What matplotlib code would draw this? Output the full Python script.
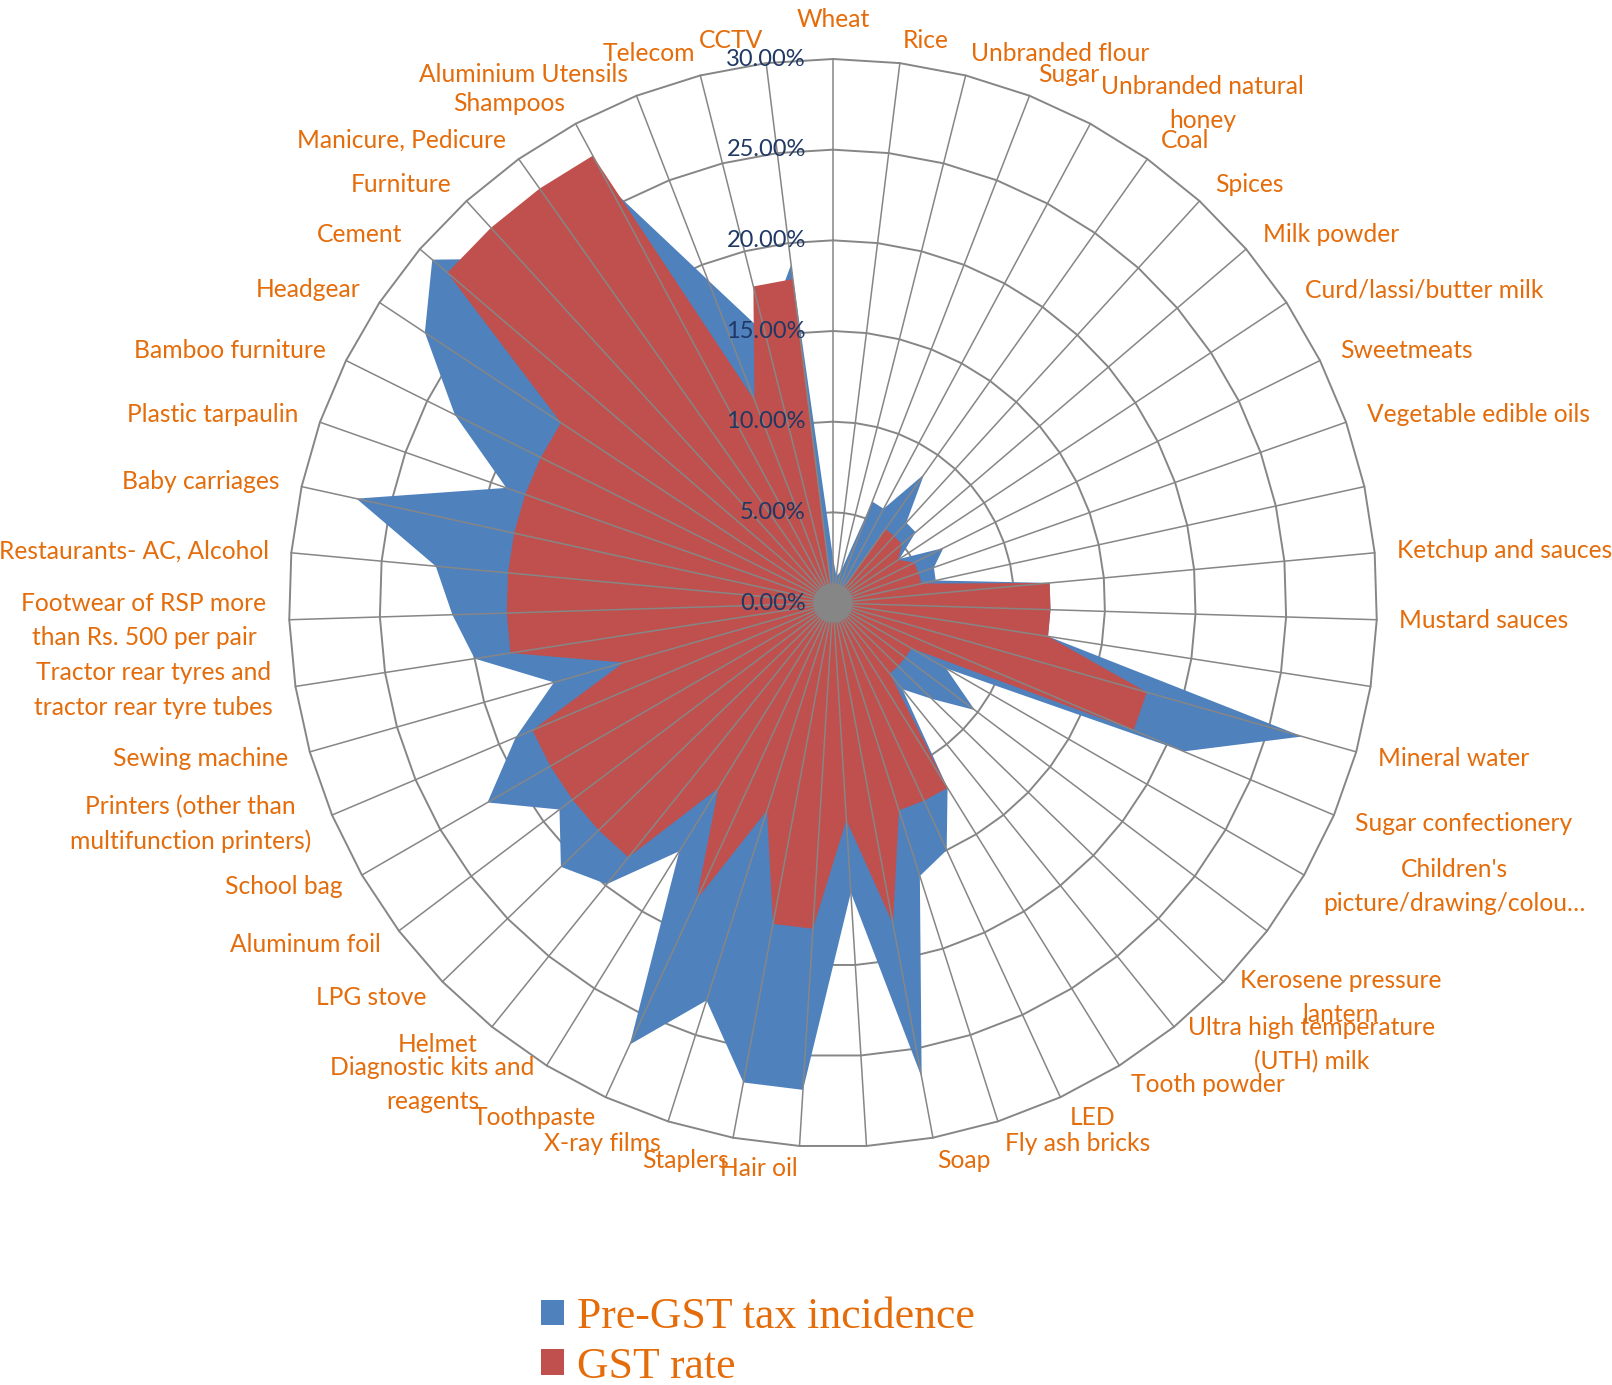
import numpy as np
import matplotlib
matplotlib.use('Agg')
import matplotlib.pyplot as plt
from matplotlib.patches import Patch, Circle

# categories clockwise from the top; '' = spoke without a visible label
categories = [
    'Wheat', 'Rice', 'Unbranded flour', 'Sugar', 'Unbranded natural\nhoney',
    'Coal', 'Spices', 'Milk powder', 'Curd/lassi/butter milk', 'Sweetmeats',
    'Vegetable edible oils', '', 'Ketchup and sauces', 'Mustard sauces', '',
    'Mineral water', 'Sugar confectionery', "Children's\npicture/drawing/colou\u2026", '',
    'Kerosene pressure\nlantern', 'Ultra high temperature\n(UTH) milk', 'Tooth powder',
    'LED', 'Fly ash bricks', 'Soap', '', 'Hair oil', 'Staplers', 'X-ray films',
    'Toothpaste', 'Diagnostic kits and\nreagents', 'Helmet', 'LPG stove',
    'Aluminum foil', 'School bag', 'Printers (other than\nmultifunction printers)',
    'Sewing machine', 'Tractor rear tyres and\ntractor rear tyre tubes',
    'Footwear of RSP more\nthan Rs. 500 per pair', 'Restaurants- AC, Alcohol',
    'Baby carriages', 'Plastic tarpaulin', 'Bamboo furniture', 'Headgear', 'Cement',
    'Furniture', 'Manicure, Pedicure', 'Shampoos', 'Aluminium Utensils', 'Telecom', 'CCTV',
]

# values in percent, same order as categories
pre_gst = [
    2.5, 1.5, 1.8, 6.0, 5.9, 8.7, 6.0, 6.0, 4.4, 6.8,
    5.9, 5.8, 12.0, 12.0, 12.0, 26.9, 21.0, 7.2, 9.8, 7.6,
    6.1, 12.0, 15.0, 15.8, 26.6, 16.0, 26.9, 26.9, 23.0, 26.8,
    16.1, 19.9, 20.9, 18.9, 22.0, 19.0, 16.0, 20.0, 21.0, 22.0,
    26.9, 19.1, 23.3, 27.0, 29.1, 25.7, 26.0, 26.0, 19.1, 15.3,
    18.8,
]
gst_rate = [
    0, 0, 0, 0, 0, 5, 5, 5, 4.3, 5,
    5, 5, 12, 12, 12, 18, 18, 5, 5, 5,
    5, 12, 12, 12, 18, 12, 18, 18, 12, 18,
    12, 18, 18, 18, 18, 18, 12, 18, 18, 18,
    18, 18, 18, 18, 28, 28, 28, 28, 12, 18,
    18,
]

ring_levels = [0, 5, 10, 15, 20, 25, 30]
ring_labels = ['0.00%', '5.00%', '10.00%', '15.00%', '20.00%', '25.00%', '30.00%']

BLUE = '#4F81BD'
RED = '#C0504D'
GRID = '#868686'
ORANGE = '#E46C0A'
NAVY = '#1F3864'

n = len(categories)
theta = 2 * np.pi * np.arange(n) / n
sx, sy = np.sin(theta), np.cos(theta)

fig = plt.figure(figsize=(16.12, 13.85), dpi=100)
ax = fig.add_axes([0, 0, 1, 1])
scale = 544 / 30.0   # pixels per percent
ax.set_xlim(-833 / scale, (1612 - 833) / scale)
ax.set_ylim((603 - 1385) / scale, 603 / scale)
ax.axis('off')

# polygon gridlines
for lev in ring_levels[1:]:
    ax.plot(np.append(sx, sx[0]) * lev, np.append(sy, sy[0]) * lev,
            color=GRID, lw=1.4, zorder=1)

# filled series
r_pre = np.array(pre_gst)
r_gst = np.array(gst_rate)
ax.fill(sx * r_pre, sy * r_pre, color=BLUE, lw=0, zorder=2)
ax.fill(sx * r_gst, sy * r_gst, color=RED, lw=0, zorder=3)

# spokes
top = ring_levels[-1]
for i in range(n):
    ax.plot([0, sx[i] * top], [0, sy[i] * top], color=GRID, lw=1.1, zorder=4)
ax.add_patch(Circle((0, 0), 1.05, color=GRID, zorder=5))

# value axis labels
for lev, lab in zip(ring_levels, ring_labels):
    ax.text(-1.5, lev, lab, ha='right', va='center', color=NAVY,
            fontsize=17, family='Lato', zorder=6)

# category labels
lab_r = top + 1.25
for i, name in enumerate(categories):
    if not name:
        continue
    if abs(sx[i]) < 1e-6:
        ha = 'center'
    elif sx[i] > 0:
        ha = 'left'
    else:
        ha = 'right'
    va = 'bottom' if i == 0 else 'center'
    rr = lab_r + 0.3 if i == 0 else lab_r
    ax.text(sx[i] * rr, sy[i] * rr, name, ha=ha, va=va,
            multialignment='center', color=ORANGE, fontsize=17.7,
            family='Lato', linespacing=1.6, zorder=6)

handles = [Patch(facecolor=BLUE, label='Pre-GST tax incidence'),
           Patch(facecolor=RED, label='GST rate')]
ax.legend(handles=handles, loc='upper left',
          bbox_to_anchor=(541 / 1612, 1 - 1297 / 1385),
          bbox_transform=fig.transFigure, frameon=False,
          prop={'family': 'Liberation Serif', 'size': 31.5},
          labelcolor=ORANGE, handlelength=0.53, handleheight=0.53,
          handletextpad=0.3, labelspacing=0.22, borderpad=0, borderaxespad=0)

fig.savefig('out.png', dpi=100)
